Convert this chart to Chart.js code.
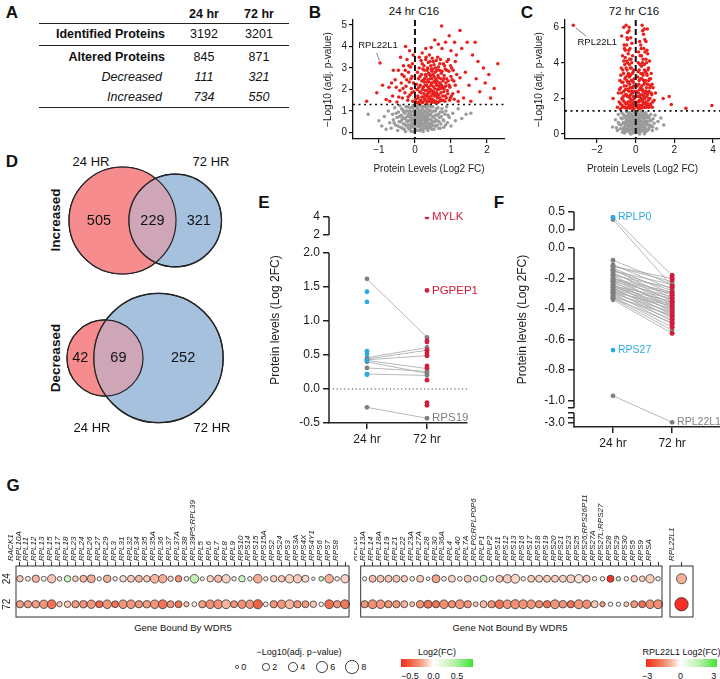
<!DOCTYPE html>
<html>
<head>
<meta charset="utf-8">
<script src="https://cdn.jsdelivr.net/npm/chart.js@4.4.1/dist/chart.umd.min.js"></script>
<style>
body { margin: 0; background: #fff; font-family: 'Liberation Sans', Arial, sans-serif; color: #111; }
#page { position: relative; width: 720px; height: 679px; overflow: hidden; }
.t { position: absolute; white-space: nowrap; line-height: 1; }
canvas { position: absolute; }
.rule { position: absolute; height: 0; border-top: 1.5px solid #222; }
</style>
</head>
<body>
<div id="page"></div>
<script>
// ---- panel A ----
var tableCols = ['24 hr', '72 hr'];
var identified = [3192, 3201];
var altered = [845, 871];
var decreased = [111, 321];
var increased = [734, 550];

// ---- panel B / C volcano points [log2FC, -log10 adj p] ----
var bRed = [[-1.34,1.45],[-1.06,1.85],[-0.8,1.54],[-0.72,2.1],[-0.62,1.7],[-0.55,2.45],[-0.5,1.42],[-0.46,2.9],[-0.42,1.95],[-0.38,2.3],[-0.35,1.6],[-0.32,3.1],[-0.3,2.6],[-0.28,1.85],[-0.25,2.15],[-0.22,3.4],[-0.2,1.5],[-0.18,2.8],[-0.16,2.35],[-0.14,1.75],[-0.12,3.05],[-0.1,2.05],[-0.08,2.6],[-0.06,1.45],[-0.05,3.6],[-0.04,2.3],[-0.26,4.0],[-0.4,3.5],[-0.15,3.8],[-0.6,2.9],
  [-0.45,1.65],[-0.33,2.05],[-0.27,2.9],[-0.23,2.45],[-0.19,1.65],[-0.11,2.5],[-0.09,1.85],[-0.07,3.2],[-0.03,1.9],[-0.17,3.1],[-0.36,2.7],[-0.52,2.1],[-0.65,2.3],[-0.7,1.45],[-0.9,2.2],
  [0.05,1.4],[0.06,2.0],[0.08,1.7],[0.1,2.5],[0.1,1.35],[0.12,3.0],[0.13,1.9],[0.15,2.2],[0.16,1.5],[0.18,2.7],[0.19,1.65],[0.2,3.2],[0.21,2.0],[0.22,1.4],[0.24,2.45],[0.25,1.8],[0.26,2.9],[0.27,1.55],[0.28,2.2],[0.3,3.4],[0.3,1.7],[0.31,2.6],[0.32,1.95],[0.33,1.35],[0.34,2.35],[0.35,3.0],[0.36,1.6],[0.37,2.1],[0.38,2.75],[0.39,1.85],[0.4,3.6],[0.41,1.45],[0.42,2.5],[0.43,2.0],[0.44,3.1],[0.45,1.7],[0.46,2.3],[0.47,2.85],[0.48,1.55],[0.5,2.15],[0.51,3.3],[0.52,1.9],[0.53,2.6],[0.55,1.4],[0.56,2.4],[0.57,3.0],[0.58,1.75],[0.6,2.2],[0.61,2.9],[0.62,1.6],[0.63,3.5],[0.65,2.0],[0.66,2.55],[0.68,1.45],[0.69,3.2],[0.7,2.3],[0.72,1.85],[0.73,2.75],[0.75,3.9],[0.76,2.1],[0.78,1.5],[0.8,2.5],[0.82,3.1],[0.84,1.7],[0.86,2.3],[0.88,2.9],[0.9,1.95],[0.93,3.4],[0.95,2.2],[0.98,1.6],[1.0,2.6],[1.02,3.0],[1.05,1.8],[1.08,2.4],[1.1,4.2],[1.12,3.3],
  [0.02,1.55],[0.04,2.25],[0.07,2.8],[0.09,1.6],[0.11,2.1],[0.14,1.45],[0.14,2.6],[0.17,3.35],[0.17,1.85],[0.19,2.4],[0.2,1.4],[0.22,2.95],[0.23,2.1],[0.23,1.65],[0.25,3.1],[0.26,2.35],[0.28,1.5],[0.29,2.7],[0.29,1.95],[0.31,3.5],[0.32,2.2],[0.33,1.75],[0.34,2.9],[0.35,1.45],[0.36,2.45],[0.37,3.25],[0.38,1.65],[0.39,2.05],[0.4,2.7],[0.41,1.9],[0.42,3.3],[0.43,1.55],[0.44,2.2],[0.45,2.95],[0.46,1.4],[0.47,2.5],[0.48,3.45],[0.49,1.8],[0.5,2.7],[0.51,1.5],[0.52,2.35],[0.53,3.15],[0.54,1.7],[0.55,2.05],[0.56,2.8],[0.57,1.45],[0.58,2.5],[0.59,3.35],[0.6,1.85],[0.61,2.4],[0.62,2.0],[0.63,1.4],[0.64,2.65],[0.65,3.05],[0.66,1.75],[0.67,2.3],[0.68,2.9],[0.69,1.6],[0.7,2.05],[0.71,3.4],[0.72,2.5],[0.73,1.5],[0.74,2.2],[0.75,2.85],[0.77,1.7],[0.78,2.4],[0.79,3.2],[0.8,1.9],[0.81,2.65],[0.83,1.45],[0.84,2.95],[0.85,2.15],[0.87,1.6],[0.88,2.5],[0.89,3.3],[0.91,1.8],[0.92,2.4],[0.94,2.85],[0.96,1.5],[0.97,2.1],[0.99,3.1],[1.01,1.7],[1.03,2.45],[1.06,2.9],[1.09,1.55],[1.12,2.2],[1.16,2.7],[1.2,1.45],[0.27,2.5],[0.38,2.35],[0.46,1.95],[0.53,1.85],[0.58,2.3],[0.66,2.15],[0.73,2.05],[0.81,2.05],[0.43,2.65],[0.36,1.8],[0.49,2.95],[0.61,1.7],
  [0.74,4.95],[1.25,4.74],[0.55,4.3],[0.85,4.2],[0.95,4.5],[1.3,3.9],[0.65,4.1],[0.45,3.95],[1.45,4.2],[1.67,4.2],[1.75,3.3],[1.6,3.6],[1.9,3.0],[2.05,2.7],[2.3,3.2],[1.4,2.8],[1.5,2.2],[1.7,2.5],[1.2,1.9],[1.35,1.6],[1.55,1.45],[1.8,1.9],[2.1,1.6],[1.95,2.3],[2.2,2.05],[1.25,2.55],[1.15,3.6],[1.0,3.8],[0.3,3.9],[0.2,3.7],[0.12,3.5],[-0.97,3.23]];
var bGray = [[-1.0,0.55],[-0.92,0.3],[-0.85,0.75],[-0.8,0.15],[-0.74,1.0],[-0.7,0.45],[-0.66,0.2],[-0.62,0.85],[-0.6,0.6],[-0.56,1.15],[-0.54,0.35],[-0.5,0.7],[-0.48,0.1],[-0.46,0.95],[-0.44,0.5],[-0.42,1.25],[-0.4,0.25],[-0.38,0.8],[-0.36,0.6],[-0.34,1.05],[-0.32,0.4],[-0.3,0.15],[-0.28,0.9],[-0.27,0.65],[-0.25,1.2],[-0.24,0.3],[-0.22,0.75],[-0.21,0.5],[-0.2,1.0],[-0.18,0.2],[-0.17,0.85],[-0.16,0.55],[-0.14,1.15],[-0.13,0.35],[-0.12,0.7],[-0.1,0.05],[-0.09,0.95],[-0.08,0.45],[-0.06,1.25],[-0.05,0.6],[-0.04,0.25],[-0.02,0.8],[-0.01,1.05],[0.0,0.4],[0.01,0.15],[0.02,0.7],[0.03,1.2],[0.04,0.5],[0.05,0.9],[0.06,0.3],[0.07,1.1],[0.08,0.6],[0.09,0.1],[0.1,0.8],[0.11,0.45],[0.12,1.0],[0.13,0.25],[0.14,0.7],[0.15,1.25],[0.16,0.55],[0.17,0.35],[0.18,0.9],[0.19,0.15],[0.2,1.1],[0.21,0.65],[0.22,0.4],[0.23,0.85],[0.24,1.2],[0.25,0.2],[0.26,0.6],[0.27,1.0],[0.28,0.45],[0.3,0.75],[0.31,0.3],[0.32,1.15],[0.33,0.55],[0.35,0.9],[0.36,0.1],[0.37,0.65],[0.38,1.25],[0.4,0.4],[0.41,0.8],[0.42,1.05],[0.44,0.25],[0.45,0.6],[0.47,0.95],[0.48,0.35],[0.5,1.2],[0.52,0.7],[0.53,0.15],[0.55,0.5],[0.57,1.0],[0.58,0.3],[0.6,0.8],[0.62,0.55],[0.64,1.15],[0.66,0.2],[0.68,0.7],[0.7,0.95],[0.72,0.4],[0.75,1.1],[0.78,0.6],[0.8,0.25],[0.83,0.85],[0.86,1.0],[0.9,0.45],[0.95,0.7],[1.0,0.3],[1.05,0.9],[1.12,0.55],[1.2,1.1],[1.3,0.65],[1.42,0.85],[1.55,0.9],[-1.3,0.85],
  [-0.58,0.45],[-0.52,0.9],[-0.47,0.3],[-0.43,0.75],[-0.39,0.5],[-0.37,1.1],[-0.35,0.2],[-0.33,0.7],[-0.31,0.95],[-0.29,0.4],[-0.26,0.05],[-0.26,1.0],[-0.23,0.55],[-0.21,1.2],[-0.19,0.35],[-0.18,0.75],[-0.15,0.9],[-0.15,0.15],[-0.13,1.0],[-0.11,0.6],[-0.11,0.25],[-0.09,0.8],[-0.07,1.15],[-0.07,0.35],[-0.05,0.05],[-0.03,0.7],[-0.03,1.0],[-0.01,0.5],[0.0,0.9],[0.01,1.25],[0.02,0.3],[0.03,0.6],[0.04,0.95],[0.05,0.1],[0.06,0.75],[0.07,0.45],[0.08,1.2],[0.09,0.55],[0.1,0.3],[0.11,1.05],[0.12,0.65],[0.13,0.9],[0.14,0.4],[0.15,0.1],[0.16,1.0],[0.17,0.75],[0.18,0.5],[0.19,1.2],[0.2,0.3],[0.21,0.9],[0.22,0.6],[0.23,0.05],[0.24,0.7],[0.25,1.0],[0.26,0.35],[0.27,0.8],[0.28,1.25],[0.29,0.55],[0.3,0.2],[0.31,0.95],[0.32,0.65],[0.33,0.3],[0.34,1.1],[0.35,0.45],[0.36,0.8],[0.37,0.2],[0.39,1.0],[0.4,0.6],[0.41,0.3],[0.43,0.85],[0.44,1.2],[0.46,0.45],[0.47,0.15],[0.49,0.75],[0.5,0.5],[0.52,1.0],[0.54,0.3],[0.56,0.8],[0.58,0.6],[0.6,1.1],[0.62,0.35],[0.65,0.85],[0.67,0.5],[0.7,0.2],[0.73,0.75],[0.76,0.95],[0.8,0.55],[0.85,0.35],[0.88,1.2],[0.92,0.8]];
var cRed = [[-0.95,1.5],[-0.9,2.3],[-0.86,1.8],[-0.82,3.0],[-0.8,1.4],[-0.78,2.6],[-0.75,3.7],[-0.73,5.5],[-0.72,2.0],[-0.7,1.6],[-0.68,4.4],[-0.66,2.9],[-0.65,1.9],[-0.63,3.4],[-0.61,2.4],[-0.6,5.0],[-0.58,1.5],[-0.57,3.9],[-0.55,2.2],[-0.54,4.7],[-0.52,1.7],[-0.51,3.2],[-0.5,6.1],[-0.49,2.7],[-0.47,4.1],[-0.46,1.4],[-0.45,3.6],[-0.44,2.1],[-0.42,5.3],[-0.41,2.9],[-0.4,1.8],[-0.39,4.5],[-0.38,3.4],[-0.36,2.4],[-0.35,5.8],[-0.34,1.6],[-0.33,3.9],[-0.32,2.8],[-0.3,4.8],[-0.29,2.0],[-0.28,3.3],[-0.27,1.45],[-0.25,4.2],[-0.24,2.6],[-0.23,3.7],[-0.21,1.9],[-0.2,5.1],[-0.19,3.0],[-0.17,2.3],[-0.16,4.4],[-0.14,1.6],[-0.13,3.5],[-0.11,2.7],[-0.1,1.4],[-0.08,3.1],[-0.07,2.0],[-0.05,1.7],[-1.17,2.0],[-0.62,6.0],[-0.43,5.7],
  [-0.84,2.5],[-0.79,1.7],[-0.77,3.3],[-0.74,2.3],[-0.71,2.9],[-0.69,1.5],[-0.67,3.6],[-0.64,2.1],[-0.62,4.1],[-0.6,2.7],[-0.59,1.8],[-0.56,3.1],[-0.55,4.3],[-0.53,2.5],[-0.52,1.5],[-0.5,3.7],[-0.48,2.2],[-0.47,5.0],[-0.46,3.0],[-0.44,1.7],[-0.43,4.0],[-0.41,2.5],[-0.4,3.3],[-0.39,1.5],[-0.37,2.9],[-0.36,4.7],[-0.35,2.1],[-0.33,3.2],[-0.32,1.8],[-0.31,4.2],[-0.3,2.6],[-0.28,3.7],[-0.27,2.2],[-0.26,5.4],[-0.25,1.6],[-0.23,3.0],[-0.22,2.4],[-0.21,4.0],[-0.19,1.7],[-0.18,3.4],[-0.16,2.6],[-0.15,1.5],[-0.13,2.9],[-0.12,2.1],[-0.1,3.6],[-0.09,1.8],[-0.06,2.4],[-0.58,4.8],[-0.45,5.4],[-0.34,6.0],
  [0.05,1.5],[0.07,2.4],[0.09,1.8],[0.1,3.2],[0.12,2.1],[0.13,4.0],[0.15,1.4],[0.16,2.8],[0.18,3.6],[0.19,1.9],[0.2,5.2],[0.21,2.5],[0.23,4.4],[0.24,1.6],[0.25,3.1],[0.27,2.2],[0.28,4.8],[0.29,1.45],[0.3,3.8],[0.32,2.7],[0.33,6.1],[0.34,1.9],[0.35,3.4],[0.37,2.4],[0.38,4.2],[0.39,1.7],[0.4,5.6],[0.41,3.0],[0.43,2.1],[0.44,3.9],[0.45,1.5],[0.47,2.9],[0.48,4.6],[0.49,2.3],[0.5,3.5],[0.52,1.8],[0.53,5.2],[0.55,2.6],[0.56,4.0],[0.58,1.6],[0.59,3.3],[0.6,2.2],[0.62,4.5],[0.63,2.8],[0.65,1.9],[0.66,3.7],[0.68,2.4],[0.7,1.5],[0.72,3.1],[0.74,2.0],[0.76,2.7],[0.78,1.7],[0.8,3.4],[0.83,2.2],[0.86,1.5],[0.9,2.6],[0.95,1.9],[1.02,2.3],[1.42,2.0],[1.73,2.1],[1.84,1.65],[3.94,1.6],[2.6,1.45],[0.6,5.9],
  [0.08,2.7],[0.11,1.6],[0.12,3.5],[0.14,2.3],[0.15,4.6],[0.17,1.8],[0.18,3.0],[0.2,2.1],[0.22,3.9],[0.23,1.5],[0.25,2.6],[0.26,5.0],[0.27,3.4],[0.29,2.0],[0.3,4.4],[0.31,1.6],[0.32,3.1],[0.34,2.5],[0.35,4.0],[0.36,1.8],[0.38,3.3],[0.39,2.2],[0.41,4.8],[0.42,1.5],[0.43,2.8],[0.45,3.6],[0.46,2.0],[0.47,5.3],[0.49,1.7],[0.5,3.0],[0.51,2.4],[0.53,4.2],[0.54,1.5],[0.55,3.4],[0.57,2.1],[0.58,4.7],[0.6,2.8],[0.61,1.7],[0.63,3.6],[0.64,2.3],[0.66,1.5],[0.67,3.0],[0.69,2.0],[0.71,4.1],[0.73,2.6],[0.75,1.6],[0.77,3.1],[0.8,2.3],[0.84,2.8],[0.88,1.8],[0.36,5.8],[0.44,5.9],[-3.23,6.1]];
var cGray = [[-1.2,0.4],[-1.05,0.8],[-0.95,0.2],[-0.9,1.1],[-0.85,0.55],[-0.8,0.3],[-0.76,0.9],[-0.72,1.2],[-0.68,0.1],[-0.65,0.65],[-0.62,0.35],[-0.58,1.0],[-0.55,0.5],[-0.52,0.2],[-0.5,0.85],[-0.47,1.25],[-0.45,0.6],[-0.42,0.3],[-0.4,1.05],[-0.38,0.75],[-0.36,0.15],[-0.34,0.45],[-0.32,0.95],[-0.3,1.2],[-0.28,0.6],[-0.26,0.25],[-0.24,0.8],[-0.22,1.1],[-0.2,0.4],[-0.18,0.05],[-0.17,0.7],[-0.15,1.0],[-0.14,0.3],[-0.12,0.55],[-0.1,1.25],[-0.09,0.85],[-0.07,0.15],[-0.06,0.45],[-0.04,0.95],[-0.03,0.65],[-0.02,1.15],[0.0,0.3],[0.01,0.75],[0.02,0.1],[0.04,1.05],[0.05,0.5],[0.06,0.85],[0.08,0.2],[0.09,1.2],[0.1,0.6],[0.12,0.35],[0.13,0.9],[0.15,0.05],[0.16,0.7],[0.18,1.1],[0.19,0.4],[0.21,0.8],[0.22,0.25],[0.24,1.0],[0.25,0.55],[0.27,1.25],[0.28,0.15],[0.3,0.7],[0.32,0.95],[0.33,0.4],[0.35,0.6],[0.37,1.15],[0.39,0.25],[0.4,0.85],[0.42,0.5],[0.44,1.05],[0.46,0.1],[0.48,0.75],[0.5,0.35],[0.52,1.2],[0.55,0.6],[0.58,0.9],[0.6,0.2],[0.63,0.5],[0.66,1.0],[0.7,0.35],[0.74,0.75],[0.78,1.1],[0.82,0.45],[0.86,0.2],[0.9,0.85],[0.95,0.6],[1.0,1.05],[1.08,0.3],[1.15,0.7],[1.3,0.9],[1.45,0.5],[-0.58,0.05],[-0.25,0.0],[0.2,0.0],[0.45,0.02],
  [-0.75,0.5],[-0.7,0.85],[-0.66,0.25],[-0.63,1.1],[-0.6,0.6],[-0.57,0.35],[-0.54,0.95],[-0.51,0.7],[-0.48,0.15],[-0.46,1.0],[-0.43,0.45],[-0.41,0.8],[-0.39,0.2],[-0.37,1.2],[-0.35,0.6],[-0.33,0.3],[-0.31,0.9],[-0.29,0.05],[-0.27,1.1],[-0.25,0.5],[-0.23,0.75],[-0.21,0.25],[-0.19,1.0],[-0.16,0.55],[-0.13,0.85],[-0.11,0.1],[-0.08,0.65],[-0.05,1.2],[-0.01,0.45],[0.03,0.9],[0.07,0.35],[0.11,1.15],[0.14,0.6],[0.17,0.2],[0.2,0.9],[0.23,0.45],[0.26,1.05],[0.29,0.7],[0.31,0.2],[0.34,0.95],[0.36,0.4],[0.38,1.2],[0.41,0.65],[0.45,0.3],[0.47,0.95],[0.51,0.55],[0.54,0.15],[0.57,1.05],[0.61,0.7],[0.65,0.25],[0.69,0.9],[0.73,0.5],[0.8,0.75],[0.88,0.4],[-0.9,0.65],[-1.0,0.35]];
var bTicksX = [-1, 0, 1, 2], bTicksY = [0, 1, 2, 3, 4, 5];
var cTicksX = [-2, 0, 2, 4], cTicksY = [0, 2, 4, 6];
var pCut = 1.3;

// ---- panel D venn counts [only 24h, both, only 72h] ----
var vennSets = ['24 HR', '72 HR'];
var increasedCounts = [505, 229, 321];
var decreasedCounts = [42, 69, 252];

// ---- panel E (24 hr -> 72 hr pairs, log2FC) ----
var timeLabels = ['24 hr', '72 hr'];
var ePairs24 = [1.62, 0.46, 0.44, 0.43, 0.42, 0.40, 0.31, 0.22, -0.27];
var ePairs72 = [0.76, 0.61, 0.57, 0.49, 0.30, 0.23, 0.26, 0.20, -0.43];
var eBlue24 = [1.43, 1.28, 0.555, 0.515, 0.42, 0.22, 0.21];
var eRed72 = [4.0, 1.45, 0.71, 0.69, 0.57, 0.53, 0.49, 0.34, 0.31, 0.13, -0.2, -0.24];
var eNames = ['MYLK', 'PGPEP1', 'RPS19'];
var eNameVals = [4.0, 1.45, -0.43];

// ---- panel F ----
var fPairs24 = [0.35, 0.29, -0.08, -0.11, -0.12, -0.13, -0.14, -0.15, -0.16, -0.17, -0.18, -0.18, -0.19, -0.2, -0.2, -0.21, -0.22, -0.22, -0.23, -0.24, -0.24, -0.25, -0.25, -0.26, -0.27, -0.27, -0.28, -0.28, -0.29, -0.3, -0.3, -0.31, -0.32, -0.33, -0.34, -0.12, -0.15, -0.21, -0.26, -0.29, -0.32, -0.33, -0.97];
var fPairs72 = [-0.18, -0.25, -0.24, -0.27, -0.22, -0.3, -0.33, -0.28, -0.35, -0.31, -0.37, -0.26, -0.4, -0.34, -0.29, -0.38, -0.42, -0.32, -0.36, -0.44, -0.39, -0.41, -0.33, -0.46, -0.37, -0.43, -0.48, -0.4, -0.45, -0.5, -0.42, -0.47, -0.52, -0.49, -0.56, -0.2, -0.24, -0.3, -0.35, -0.38, -0.44, -0.54, -3.0];
var fBlue24 = [0.35, -0.67];
var fRed72 = [-0.18, -0.2, -0.21, -0.25, -0.26, -0.29, -0.31, -0.33, -0.35, -0.36, -0.38, -0.4, -0.42, -0.44, -0.45, -0.47, -0.49, -0.5, -0.52, -0.56];
var fNames = ['RPLP0', 'RPS27', 'RPL22L1'];
var fNameTime = [1, 1, 2];
var fNameVals = [0.35, -0.67, -3.0];

// ---- panel G ----
var rowLabels = ['24', '72'];
var boundGenes = ['RACK1','RPL10A','RPL11','RPL12','RPL13','RPL15','RPL17','RPL18','RPL23','RPL24','RPL26','RPL27','RPL29','RPL3','RPL31','RPL32','RPL34','RPL35','RPL35A','RPL36','RPL37','RPL37A','RPL38','RPL39P5;RPL39','RPL5','RPL6','RPL7','RPL8','RPL9','RPS10','RPS14','RPS15','RPS15A','RPS2','RPS24','RPS3','RPS3A','RPS4X','RPS4Y1','RPS6','RPS7','RPS8'];
var bound24FC = [-0.15,-0.05,-0.2,-0.04,-0.15,-0.03,0.3,-0.14,-0.2,-0.22,-0.05,-0.22,-0.05,-0.1,-0.14,-0.2,-0.14,-0.2,-0.22,-0.1,-0.3,-0.08,0.4,-0.03,-0.12,-0.18,-0.12,-0.04,0.3,-0.03,-0.22,-0.04,-0.14,-0.14,-0.12,-0.14,-0.1,-0.03,0.3,-0.22,-0.04,-0.12];
var bound24P = [1.5,0.6,2.0,0.6,2.8,0.4,1.5,1.0,1.8,2.5,0.3,2.2,0.4,1.5,1.8,1.8,1.5,3.0,2.8,0.8,1.5,0.5,3.0,0.2,1.5,2.0,2.8,0.4,1.5,0.4,3.0,0.3,1.5,1.5,2.8,2.8,1.8,0.0,0.5,3.0,0.4,2.8];
var bound72FC = [-0.28,-0.27,-0.28,-0.3,-0.42,-0.15,-0.14,-0.28,-0.3,-0.3,-0.45,-0.3,-0.42,-0.3,-0.3,-0.3,-0.28,-0.3,-0.42,-0.3,-0.42,-0.18,-0.03,-0.28,-0.32,-0.32,-0.2,-0.3,-0.32,-0.3,-0.48,-0.05,-0.3,-0.3,-0.2,-0.3,-0.28,-0.15,-0.03,-0.45,-0.3,-0.4];
var bound72P = [2.0,2.0,2.2,2.8,3.2,0.8,1.5,2.0,2.2,2.8,1.8,3.0,1.7,3.0,3.0,2.0,2.2,3.0,3.2,1.8,1.8,0.8,0.6,2.0,3.0,3.2,3.2,1.8,2.8,2.8,3.5,0.5,2.0,2.8,3.2,2.0,1.8,1.5,0.4,3.2,2.0,3.2];
var unboundGenes = ['RPL10','RPL13A','RPL14','RPL18A','RPL19','RPL21','RPL22','RPL23A','RPL27A','RPL28','RPL30','RPL36A','RPL4','RPL40','RPL7A','RPLP0;RPLP0P6','RPLP1','RPLP2','RPS11','RPS12','RPS13','RPS16','RPS17','RPS18','RPS19','RPS20','RPS21','RPS23','RPS25','RPS26;RPS26P11','RPS27A','RPS27L;RPS27','RPS28','RPS29','RPS30','RPS5','RPS9','RPSA'];
var unbound24FC = [-0.03,-0.18,-0.15,-0.15,-0.15,-0.14,-0.05,-0.14,-0.03,-0.25,-0.05,-0.12,-0.04,-0.14,-0.04,0.3,-0.04,-0.14,-0.14,-0.12,-0.04,-0.14,-0.12,-0.14,-0.14,-0.12,-0.12,-0.08,-0.14,-0.03,-0.04,-0.65,0.3,-0.04,-0.14,-0.12,-0.14,-0.04];
var unbound24P = [0.3,1.8,1.8,1.8,1.8,1.5,0.5,1.8,0.1,2.5,0.5,1.8,0.5,1.8,0.6,1.8,0.5,1.8,2.8,3.2,0.4,1.8,1.8,1.8,1.8,1.8,2.5,2.8,1.8,0.4,0.4,1.8,0.4,0.4,1.5,1.0,2.8,0.4];
var unbound72FC = [-0.3,-0.32,-0.3,-0.3,-0.3,-0.2,-0.15,-0.3,-0.42,-0.42,-0.32,-0.32,-0.3,-0.3,-0.15,-0.18,-0.3,-0.42,-0.3,-0.32,-0.3,-0.3,-0.32,-0.42,-0.3,-0.3,-0.42,-0.3,-0.32,-0.15,-0.3,-0.03,-0.03,-0.15,-0.3,-0.42,-0.32,-0.32];
var unbound72P = [2.0,3.2,3.0,2.0,2.0,1.8,0.6,2.2,2.5,2.0,3.0,2.0,3.2,2.0,0.6,1.8,2.0,3.0,3.0,3.5,3.2,3.0,2.0,2.0,3.2,2.2,2.0,3.3,2.8,1.8,0.8,0.4,0.4,0.6,1.8,1.8,3.0,3.2];
var rpl22l1Gene = ['RPL22L1'];
var rpl22l1FC = [-0.97, -3.0];
var rpl22l1P = [4.2, 8.0];
var sizeLegend = [0, 2, 4, 6, 8];
var fcLegend = [-0.5, 0.0, 0.5];
var rplLegend = [-3, 0, 3];

// ------------------------------------------------------------
Chart.defaults.font.family = "'Liberation Sans', Arial, sans-serif";
Chart.defaults.color = '#1a1a1a';
Chart.defaults.animation = false;
Chart.defaults.events = [];
Chart.defaults.layout.autoPadding = false;
Chart.defaults.plugins.legend.display = false;
Chart.defaults.plugins.tooltip.enabled = false;

var page = document.getElementById('page');
var RED = '#d7193a', BLUE = '#29abe2', GRAY = '#7f7f7f';

function mk(left, top, w, h) {
    var c = document.createElement('canvas');
    c.width = w; c.height = h;
    c.style.left = left + 'px'; c.style.top = top + 'px';
    c.style.width = w + 'px'; c.style.height = h + 'px';
    page.appendChild(c);
    return c;
}

function txt(s, x, y, o) {
    o = o || {};
    var d = document.createElement('div');
    d.className = 't';
    d.textContent = s;
    d.style.left = x + 'px';
    d.style.top = y + 'px';
    d.style.fontSize = (o.size || 12) + 'px';
    if (o.bold) d.style.fontWeight = 'bold';
    if (o.italic) d.style.fontStyle = 'italic';
    if (o.color) d.style.color = o.color;
    var ax = o.align == 'left' ? '0' : (o.align == 'right' ? '-100%' : '-50%');
    d.style.transform = 'translate(' + ax + ',-50%)' + (o.rot ? ' rotate(' + o.rot + 'deg)' : '');
    page.appendChild(d);
    return d;
}

function rule(x1, x2, y) {
    var d = document.createElement('div');
    d.className = 'rule';
    d.style.left = x1 + 'px'; d.style.top = y + 'px'; d.style.width = (x2 - x1) + 'px';
    page.appendChild(d);
}

function minus(v) { return String(v).replace('-', '\u2212'); }

// panel letters
txt('A', 12, 12, {size: 17, bold: true});
txt('B', 315, 12, {size: 17, bold: true});
txt('C', 527, 12, {size: 17, bold: true});
txt('D', 12, 161, {size: 17, bold: true});
txt('E', 264, 202, {size: 17, bold: true});
txt('F', 499, 202, {size: 17, bold: true});
txt('G', 13, 485, {size: 17, bold: true});

// ---- A: table ----
var colX = [204, 259];
tableCols.forEach(function (c, i) { txt(c, colX[i], 14, {size: 12.5, bold: true}); });
rule(39, 289, 23);
txt('Identified Proteins', 165, 34, {size: 12.5, bold: true, align: 'right'});
rule(39, 289, 45);
txt('Altered Proteins', 165, 57, {size: 12.5, bold: true, align: 'right'});
txt('Decreased', 162, 77, {size: 12.5, italic: true, align: 'right'});
txt('Increased', 162, 97, {size: 12.5, italic: true, align: 'right'});
rule(39, 289, 107);
[0, 1].forEach(function (i) {
    txt(String(identified[i]), colX[i], 34, {size: 12.5});
    txt(String(altered[i]), colX[i], 57, {size: 12.5});
    txt(String(decreased[i]), colX[i], 77, {size: 12.5, italic: true});
    txt(String(increased[i]), colX[i], 97, {size: 12.5, italic: true});
});

// ---- B, C: volcano ----
var volcPlugin = {
    id: 'volc',
    afterDatasetsDraw: function (chart, args, o) {
        var ctx = chart.ctx, a = chart.chartArea, x = chart.scales.x, y = chart.scales.y;
        ctx.save();
        ctx.strokeStyle = '#111';
        ctx.lineWidth = 1.6;
        ctx.setLineDash([2, 3.5]);
        var py = y.getPixelForValue(o.cut);
        ctx.beginPath(); ctx.moveTo(a.left, py); ctx.lineTo(a.right, py); ctx.stroke();
        ctx.lineWidth = 2;
        ctx.setLineDash([6, 3]);
        var px = x.getPixelForValue(0);
        ctx.beginPath(); ctx.moveTo(px, a.top); ctx.lineTo(px, a.bottom); ctx.stroke();
        ctx.setLineDash([]);
        var t = o.tag;
        var tx = x.getPixelForValue(t.x), ty = y.getPixelForValue(t.y);
        ctx.lineWidth = 0.6;
        ctx.strokeStyle = '#333';
        ctx.beginPath(); ctx.moveTo(tx + t.l1[0], ty + t.l1[1]); ctx.lineTo(tx + t.l2[0], ty + t.l2[1]); ctx.stroke();
        ctx.fillStyle = '#111';
        ctx.font = "9.5px 'Liberation Sans', Arial, sans-serif";
        ctx.textAlign = 'center'; ctx.textBaseline = 'middle';
        ctx.fillText(t.text, tx + t.dx, ty + t.dy);
        ctx.restore();
    }
};

function xy(p) { return {x: p[0], y: p[1]}; }

function volcano(left, w, gray, red, xr, yr, xt, yt, yw, tag) {
    var c = mk(left, 0, w, 175);
    var axisGrid = {drawOnChartArea: false, color: '#111', tickLength: 4, lineWidth: 1.2};
    return new Chart(c, {
        type: 'scatter',
        data: {datasets: [
            {data: red.map(xy), backgroundColor: '#e8201e', pointRadius: 1.75, borderWidth: 0, order: 1},
            {data: gray.map(xy), backgroundColor: '#9b9b9b', pointRadius: 1.75, borderWidth: 0, order: 2}
        ]},
        options: {
            responsive: false,
            layout: {padding: {top: 20, right: 0, left: 0, bottom: 0}},
            scales: {
                x: {
                    type: 'linear', min: xr[0], max: xr[1],
                    afterBuildTicks: function (s) { s.ticks = xt.map(function (v) { return {value: v}; }); },
                    afterFit: function (s) { s.height = 36; },
                    grid: axisGrid, border: {color: '#111', width: 1.3},
                    ticks: {font: {size: 10}, padding: 1, callback: function (v) { return minus(v); }},
                    title: {display: true, text: 'Protein Levels (Log2 FC)', font: {size: 10}, padding: {top: 2, bottom: 0}}
                },
                y: {
                    type: 'linear', min: yr[0], max: yr[1],
                    afterBuildTicks: function (s) { s.ticks = yt.map(function (v) { return {value: v}; }); },
                    afterFit: function (s) { s.width = yw; },
                    grid: axisGrid, border: {color: '#111', width: 1.3},
                    ticks: {font: {size: 10}, padding: 2},
                    title: {display: true, text: '\u2212Log10 (adj. p-value)', font: {size: 10}, padding: {top: 0, bottom: 2}}
                }
            },
            plugins: {volc: {cut: pCut, tag: tag}}
        },
        plugins: [volcPlugin]
    });
}

txt('24 hr C16', 414, 12, {size: 11.5});
txt('72 hr C16', 634, 12, {size: 11.5});
volcano(322, 183, bGray, bRed, [-1.72, 2.5], [-0.3, 5.23], bTicksX, bTicksY, 31,
    {x: -0.97, y: 3.23, text: 'RPL22L1', dx: -2, dy: -18, l1: [-0.5, -2.5], l2: [-3.5, -10]});
volcano(533, 187, cGray, cRed, [-3.66, 4.36], [-0.28, 6.4], cTicksX, cTicksY, 32,
    {x: -3.23, y: 6.1, text: 'RPL22L1', dx: 24, dy: 17, l1: [2.5, 2.5], l2: [13, 11]});

// ---- D: venn ----
function lens(r1, r2, d) {
    if (d >= r1 + r2) return 0;
    if (d <= Math.abs(r1 - r2)) return Math.PI * Math.min(r1, r2) * Math.min(r1, r2);
    var a = r1 * r1 * Math.acos((d * d + r1 * r1 - r2 * r2) / (2 * d * r1));
    var b = r2 * r2 * Math.acos((d * d + r2 * r2 - r1 * r1) / (2 * d * r2));
    var c = 0.5 * Math.sqrt((-d + r1 + r2) * (d + r1 - r2) * (d - r1 + r2) * (d + r1 + r2));
    return a + b - c;
}

// circle sizes from set totals, centre distance solved so the overlap area matches the shared count
function vennLayout(counts) {
    var r1 = Math.sqrt((counts[0] + counts[1]) / Math.PI);
    var r2 = Math.sqrt((counts[1] + counts[2]) / Math.PI);
    var lo = Math.abs(r1 - r2), hi = r1 + r2;
    for (var i = 0; i < 60; i++) {
        var mid = (lo + hi) / 2;
        if (lens(r1, r2, mid) > counts[1]) lo = mid; else hi = mid;
    }
    return {r1: r1, r2: r2, d: (lo + hi) / 2};
}

var vennLabels = {
    id: 'vennLabels',
    afterDraw: function (chart, args, o) {
        var L = o.layout, x = chart.scales.x, y = chart.scales.y, ctx = chart.ctx;
        var xs = [(-L.r1 + L.d - L.r2) / 2, (L.d - L.r2 + L.r1) / 2, (L.r1 + L.d + L.r2) / 2];
        ctx.save();
        ctx.fillStyle = '#111';
        ctx.font = "14.5px 'Liberation Sans', Arial, sans-serif";
        ctx.textAlign = 'center'; ctx.textBaseline = 'middle';
        o.counts.forEach(function (n, i) {
            ctx.fillText(String(n), x.getPixelForValue(xs[i]), y.getPixelForValue(0));
        });
        ctx.restore();
    }
};

function venn(counts, left, top, w, h, xr, yr) {
    var L = vennLayout(counts);
    var c = mk(left, top, w, h);
    var red = {x: 0, y: 0, rr: L.r1, r: 0}, blue = {x: L.d, y: 0, rr: L.r2, r: 0};
    var base = {clip: false, borderWidth: 1.2, borderColor: '#222'};
    var ch = new Chart(c, {
        type: 'bubble',
        data: {datasets: [
            Object.assign({data: [red], backgroundColor: '#f78c8f', order: 4}, base),
            Object.assign({data: [blue], backgroundColor: '#a5c1de', order: 3}, base),
            Object.assign({data: [red], backgroundColor: 'rgba(247,140,143,0.5)', order: 2}, base),
            Object.assign({data: [blue], backgroundColor: 'rgba(0,0,0,0)', order: 1}, base)
        ]},
        options: {
            responsive: false,
            layout: {padding: 0, autoPadding: false},
            scales: {
                x: {type: 'linear', display: false, min: xr[0], max: xr[1]},
                y: {type: 'linear', display: false, min: yr[0], max: yr[1]}
            },
            plugins: {vennLabels: {layout: L, counts: counts}}
        },
        plugins: [vennLabels]
    });
    // bubble radius is in pixels: convert the data-unit radius through the x scale
    var sx = ch.scales.x;
    [red, blue].forEach(function (p) { p.r = Math.abs(sx.getPixelForValue(p.rr) - sx.getPixelForValue(0)); });
    ch.update();
    return ch;
}

txt(vennSets[0], 91, 161, {size: 13});
txt(vennSets[1], 211, 161, {size: 13});
txt('Increased', 56, 220, {size: 13.5, bold: true, rot: -90});
venn(increasedCounts, 60, 160, 180, 124, [-62.5 / 3.5, 117.5 / 3.5], [-63.5 / 3.5, 60.5 / 3.5]);
txt('Decreased', 56, 358, {size: 13.5, bold: true, rot: -90});
venn(decreasedCounts, 60, 288, 180, 142, [-45 / 6.4, 135 / 6.4], [-72 / 6.4, 70 / 6.4]);
txt(vennSets[0], 92, 427, {size: 13});
txt(vennSets[1], 212, 427, {size: 13});

// ---- E, F: broken y axis ----
class BrokenScale extends Chart.LinearScale {
    buildTicks() {
        this.min = this.options.min;
        this.max = this.options.max;
        return this.options.tickValues.map(function (v) { return {value: v}; });
    }
    getPixelForValue(v) {
        var segs = this.options.segments;
        for (var i = 0; i < segs.length; i++) {
            var s = segs[i];
            if (v >= s.lo && v <= s.hi) return this.top + s.y0 + (s.hi - v) / (s.hi - s.lo) * (s.y1 - s.y0);
        }
        return NaN;
    }
    getValueForPixel() { return 0; }
}
BrokenScale.id = 'broken';
BrokenScale.defaults = {};
Chart.register(BrokenScale);

var brokenPlugin = {
    id: 'brokenAxis',
    afterDraw: function (chart, args, o) {
        var ctx = chart.ctx, a = chart.chartArea, y = chart.scales.y, x = chart.scales.x;
        ctx.save();
        ctx.strokeStyle = '#222';
        ctx.lineWidth = 1.5;
        y.options.segments.forEach(function (s) {
            ctx.beginPath(); ctx.moveTo(a.left, a.top + s.y0); ctx.lineTo(a.left, a.top + s.y1); ctx.stroke();
        });
        if (o.zero) {
            ctx.lineWidth = 1;
            ctx.strokeStyle = '#444';
            ctx.setLineDash([1.2, 2.6]);
            var pz = y.getPixelForValue(0);
            ctx.beginPath(); ctx.moveTo(a.left, pz); ctx.lineTo(a.right, pz); ctx.stroke();
            ctx.setLineDash([]);
        }
        ctx.font = o.font;
        ctx.textAlign = 'left'; ctx.textBaseline = 'middle';
        o.names.forEach(function (n) {
            ctx.fillStyle = n.color;
            ctx.fillText(n.text, x.getPixelForValue(n.t) + 5, y.getPixelForValue(n.v));
        });
        ctx.restore();
    }
};

function pairLine(a24, a72) {
    var d = [];
    a24.forEach(function (v, i) {
        d.push({x: 1, y: v}, {x: 2, y: a72[i]}, {x: 1.5, y: null});
    });
    return d;
}
function col(t, arr) { return arr.map(function (v) { return {x: t, y: v}; }); }

function pairChart(left, w, opt) {
    var c = mk(left, 200, w, 255);
    var tg = {drawOnChartArea: false, color: '#222', tickLength: 6, lineWidth: 1.5};
    var ds = [
        {type: 'line', data: pairLine(opt.p24, opt.p72), borderColor: '#a6a6a6', borderWidth: 0.8, pointRadius: 0, spanGaps: false, order: 10},
        {data: col(1, opt.p24).concat(col(2, opt.p72)), backgroundColor: GRAY, pointRadius: 2.4, borderWidth: 0, order: 5}
    ].concat(opt.extra);
    return new Chart(c, {
        type: 'scatter',
        data: {datasets: ds},
        options: {
            responsive: false,
            layout: {padding: {top: opt.top, right: opt.right, left: 0, bottom: 0}},
            scales: {
                x: {
                    type: 'linear', min: opt.xr[0], max: opt.xr[1],
                    afterBuildTicks: function (s) { s.ticks = [{value: 1}, {value: 2}]; },
                    afterFit: function (s) { s.height = opt.xh; },
                    grid: tg, border: {color: '#222', width: 1.5},
                    ticks: {font: {size: 12}, padding: 3, callback: function (v) { return timeLabels[v - 1]; }}
                },
                y: {
                    type: 'broken', min: opt.yr[0], max: opt.yr[1],
                    segments: opt.segs, tickValues: opt.ticks,
                    afterFit: function (s) { s.width = opt.yw; },
                    grid: tg, border: {display: false},
                    ticks: {font: {size: 12}, padding: 3, callback: function (v, i) { return opt.labels[i]; }},
                    title: {display: true, text: 'Protein levels (Log 2FC)', font: {size: 12}, padding: {top: 0, bottom: 4}}
                }
            },
            plugins: {brokenAxis: {zero: opt.zero, names: opt.names, font: opt.nameFont}}
        },
        plugins: [brokenPlugin]
    });
}

pairChart(268, 212, {
    p24: ePairs24, p72: ePairs72, top: 17, right: 13, xh: 32, yw: 61, xr: [0.367, 2.667], yr: [-0.5, 4],
    segs: [{lo: -0.5, hi: 2, y0: 36, y1: 206}, {lo: 2, hi: 4, y0: 0, y1: 18}],
    ticks: [4, 2.000001, 2, 1.5, 1, 0.5, 0, -0.5],
    labels: ['4', '2', '2.0', '1.5', '1.0', '0.5', '0.0', '-0.5'],
    zero: true,
    nameFont: "11.5px 'Liberation Sans', Arial, sans-serif",
    extra: [
        {data: col(1, eBlue24), backgroundColor: BLUE, pointRadius: 2.4, borderWidth: 0, order: 2},
        {data: col(2, eRed72), backgroundColor: RED, pointRadius: 2.4, borderWidth: 0, order: 3}
    ],
    names: eNames.map(function (n, i) { return {text: n, t: 2, v: eNameVals[i], color: i < 2 ? RED : GRAY}; })
});

pairChart(515, 205, {
    p24: fPairs24, p72: fPairs72, top: 12, right: 0, xh: 28, yw: 59, xr: [0.34, 2.81], yr: [-3.25, 0.5],
    segs: [{lo: -1.05, hi: 0, y0: 36, y1: 196}, {lo: 0, hi: 0.5, y0: 0, y1: 18}, {lo: -3.25, hi: -2.5, y0: 201, y1: 215}],
    ticks: [0.5, 0.000001, 0, -0.2, -0.4, -0.6, -0.8, -1.0, -1.05, -2.5, -2.75, -3.0],
    labels: ['0.5', '0.0', '0.0', '-0.2', '-0.4', '-0.6', '-0.8', '-1.0', '', '', '', '-3.0'],
    zero: false,
    nameFont: "10.5px 'Liberation Sans', Arial, sans-serif",
    extra: [
        {data: col(1, fBlue24), backgroundColor: BLUE, pointRadius: 2.4, borderWidth: 0, order: 2},
        {data: col(2, fRed72), backgroundColor: RED, pointRadius: 2.4, borderWidth: 0, order: 3}
    ],
    names: fNames.map(function (n, i) { return {text: n, t: fNameTime[i], v: fNameVals[i], color: i < 2 ? BLUE : GRAY}; })
});

// ---- G: bubble grid ----
var negStops = [[255,255,255],[249,190,170],[242,135,105],[240,90,60],[250,40,35]];
var posStops = [[255,255,255],[190,240,175],[60,230,50]];
function fcColor(fc, lo, hi) {
    var stops = fc < 0 ? negStops : posStops;
    var t = fc < 0 ? Math.min(1, -fc / lo) : Math.min(1, fc / hi);
    var f = t * (stops.length - 1);
    var i = Math.min(Math.floor(f), stops.length - 2), r = f - i;
    var a = stops[i], b = stops[i + 1];
    return 'rgb(' + [0, 1, 2].map(function (k) { return Math.round(a[k] + (b[k] - a[k]) * r); }).join(',') + ')';
}
function sizeR(p) { return Math.sqrt(2.9 + 5.2 * p); }

var gridBox = {
    id: 'gridBox',
    afterDraw: function (chart, args, o) {
        var ctx = chart.ctx, a = chart.chartArea;
        ctx.save();
        ctx.strokeStyle = '#333';
        ctx.lineWidth = 1;
        ctx.strokeRect(a.left, a.top, a.right - a.left, a.bottom - a.top);
        if (o.rows) {
            var y = chart.scales.y;
            ctx.fillStyle = '#222';
            ctx.font = "10px 'Liberation Sans', Arial, sans-serif";
            ctx.textAlign = 'center'; ctx.textBaseline = 'middle';
            rowLabels.forEach(function (r, i) {
                ctx.save();
                ctx.translate(7, y.getPixelForValue(i));
                ctx.rotate(-Math.PI / 2);
                ctx.fillText(r, 0, 0);
                ctx.restore();
            });
        }
        ctx.restore();
    }
};

function bubbleGrid(left, w, pad, genes, fc24, p24, fc72, p72, lo, hi, rows) {
    var c = mk(left, 470, w, 150);
    var pts = [];
    genes.forEach(function (g, i) {
        pts.push({x: g, y: rowLabels[0], fc: fc24[i], p: p24[i]});
        pts.push({x: g, y: rowLabels[1], fc: fc72[i], p: p72[i]});
    });
    return new Chart(c, {
        type: 'bubble',
        data: {datasets: [{
            data: pts, clip: false,
            radius: function (ctx) { return sizeR(ctx.raw.p); },
            backgroundColor: function (ctx) { return fcColor(ctx.raw.fc, lo, hi); },
            borderColor: '#333', borderWidth: 0.8
        }]},
        options: {
            responsive: false,
            layout: {padding: {left: pad[0], right: pad[1], top: 0, bottom: 3}},
            scales: {
                x: {
                    type: 'category', labels: genes, position: 'top', offset: true,
                    afterFit: function (s) { s.height = 96; },
                    grid: {drawOnChartArea: false, offset: false, tickLength: 4, color: '#333'},
                    border: {display: false},
                    ticks: {autoSkip: false, minRotation: 90, maxRotation: 90, padding: 1, color: '#222', font: {size: 8, style: 'italic'}}
                },
                y: {type: 'category', labels: rowLabels, offset: true, display: false}
            },
            plugins: {gridBox: {rows: rows}}
        },
        plugins: [gridBox]
    });
}

bubbleGrid(0, 354, [16, 5], boundGenes, bound24FC, bound24P, bound72FC, bound72P, 0.69, 0.84, true);
bubbleGrid(354, 312, [4, 4], unboundGenes, unbound24FC, unbound24P, unbound72FC, unbound72P, 0.69, 0.84, false);
bubbleGrid(666, 30, [4, 3], rpl22l1Gene, [rpl22l1FC[0]], [rpl22l1P[0]], [rpl22l1FC[1]], [rpl22l1P[1]], 3.1, 3.3, false);

txt('Gene Bound By WDR5', 183, 628, {size: 9.5});
txt('Gene Not Bound By WDR5', 510, 628, {size: 9.5});

// legends
txt('\u2212Log10(adj. p\u2212value)', 299, 652, {size: 9});
var sizeX = [237, 266, 293, 322, 352];
sizeLegend.forEach(function (v, i) {
    var r = sizeR(v);
    var d = document.createElement('div');
    d.style.cssText = 'position:absolute;border:1px solid #333;border-radius:50%;background:#fff;box-sizing:border-box;';
    d.style.width = d.style.height = (2 * r) + 'px';
    d.style.left = (sizeX[i] - r) + 'px';
    d.style.top = (667 - r) + 'px';
    page.appendChild(d);
    txt(String(v), sizeX[i] + r + 5, 667, {size: 9});
});

function colorBar(x1, x2, vmin, vmax, lo, hi, ticks, digits, title) {
    var stops = [];
    for (var k = 0; k <= 40; k++) {
        var v = vmin + (vmax - vmin) * k / 40;
        stops.push(fcColor(v, lo, hi) + ' ' + (k * 2.5) + '%');
    }
    var d = document.createElement('div');
    d.style.cssText = 'position:absolute;height:8px;top:659px;';
    d.style.left = x1 + 'px';
    d.style.width = (x2 - x1) + 'px';
    d.style.background = 'linear-gradient(to right,' + stops.join(',') + ')';
    page.appendChild(d);
    ticks.forEach(function (t) {
        var px = x1 + (t - vmin) / (vmax - vmin) * (x2 - x1);
        txt(minus(t.toFixed(digits)), px, 676, {size: 9});
    });
    txt(title, (x1 + x2) / 2, 652, {size: 9});
}
colorBar(401, 473, -0.69, 0.84, 0.69, 0.84, fcLegend, 1, 'Log2(FC)');
colorBar(646, 717, -3.1, 3.3, 3.1, 3.3, rplLegend, 0, 'RPL22L1 Log2(FC)');
</script>
</body>
</html>
